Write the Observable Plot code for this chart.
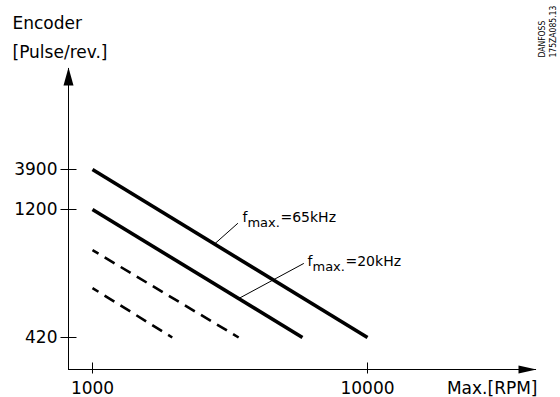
<!DOCTYPE html>
<html><head><meta charset="utf-8">
<script src="https://cdn.jsdelivr.net/npm/d3@7"></script>
<script src="https://cdn.jsdelivr.net/npm/@observablehq/plot@0.6"></script>
<style>body{margin:0;background:#fff}</style>
</head><body><div id="chart"></div>
<script>
// ---- data ----
const startRpm = 1000;
const endPulses = 420;
const solidFreq = ["65kHz", "20kHz"];
const solidStartPulses = [3900, 1200];
const solidEndRpm = [10000, 5800];
const dashedStartPulses = [860, 630];
const dashedEndRpm = [3400, 1950];
const leaderFromRpm = [2780, 3400];
const leaderFromPulses = [905, 578];
const leaderToRpm = [3370, 5850];
const leaderToPulses = [1070, 770];
const labelRpm = [3510, 6050];
const labelPulses = [1079, 758];
const xTicks = [1000, 10000];
const yTicks = [420, 1200, 3900];
const yTitle = ["Encoder", "[Pulse/rev.]"];
const xTitle = "Max.[RPM]";
const stamp = ["DANFOSS", "175ZA085.13"];

// ---- tables ----
const solidRows = solidFreq.flatMap((f, i) => [
  {id: f, rpm: startRpm, pulses: solidStartPulses[i]},
  {id: f, rpm: solidEndRpm[i], pulses: endPulses}
]);
const dashedRows = dashedStartPulses.flatMap((p, i) => [
  {id: "d" + i, rpm: startRpm, pulses: p},
  {id: "d" + i, rpm: dashedEndRpm[i], pulses: endPulses}
]);
const leaderRows = solidFreq.flatMap((f, i) => [
  {id: f, rpm: leaderFromRpm[i], pulses: leaderFromPulses[i]},
  {id: f, rpm: leaderToRpm[i], pulses: leaderToPulses[i]}
]);
const labelRows = solidFreq.map((f, i) => ({f, rpm: labelRpm[i], pulses: labelPulses[i]}));

// ---- custom symbols ----
const hTick = {draw(c) { c.moveTo(-8, 0); c.lineTo(8, 0); }};
const vTick = {draw(c) { c.moveTo(0, -7); c.lineTo(0, 4); }};
const arrowUp = {draw(c) { c.moveTo(0, -1); c.lineTo(-5, 17); c.lineTo(5, 17); c.closePath(); }};
const arrowRight = {draw(c) { c.moveTo(1, 0); c.lineTo(-17, -4); c.lineTo(-17, 4); c.closePath(); }};

const FONT = "DejaVu Sans";
const STAMP_FONT = "'DejaVu Sans Condensed', 'DejaVu Sans'";

const chart = Plot.plot({
  width: 560,
  height: 397,
  marginLeft: 68,
  marginRight: 25,
  marginTop: 68,
  marginBottom: 28,
  style: {fontFamily: FONT, fontSize: "17px", background: "white", color: "black"},
  x: {type: "log", domain: [1000, 10000], range: [92, 367]},
  y: {type: "log", domain: [420, 1200, 3900], range: [337, 209, 169]},
  marks: [
    Plot.frame({anchor: "left"}),
    Plot.frame({anchor: "bottom"}),
    Plot.dot([0], {x: null, y: null, frameAnchor: "top-left", symbol: arrowUp, fill: "black", stroke: "none"}),
    Plot.dot([0], {x: null, y: null, frameAnchor: "bottom-right", symbol: arrowRight, fill: "black", stroke: "none"}),
    Plot.dot(yTicks, {y: d => d, frameAnchor: "left", symbol: hTick, stroke: "black", fill: "none", strokeWidth: 1}),
    Plot.dot(xTicks, {x: d => d, frameAnchor: "bottom", symbol: vTick, stroke: "black", fill: "none", strokeWidth: 1}),
    Plot.axisY(yTicks, {anchor: "left", tickSize: 0, tickPadding: 11, tickFormat: d => String(d), fontSize: 17, label: null}),
    Plot.axisX(xTicks, {anchor: "bottom", tickSize: 0, tickPadding: 12, tickFormat: d => String(d), fontSize: 17, label: null}),
    Plot.text([yTitle[0]], {frameAnchor: "top-left", textAnchor: "start", lineAnchor: "bottom", dx: -56, dy: -40, fontSize: 17}),
    Plot.text([yTitle[1]], {frameAnchor: "top-left", textAnchor: "start", lineAnchor: "bottom", dx: -56, dy: -11, fontSize: 17}),
    Plot.text([xTitle], {frameAnchor: "bottom-right", textAnchor: "end", lineAnchor: "bottom", dx: 2, dy: 24, fontSize: 17}),
    Plot.line(solidRows, {x: "rpm", y: "pulses", z: "id", stroke: "black", strokeWidth: 3.6, strokeLinecap: "butt"}),
    Plot.line(dashedRows, {x: "rpm", y: "pulses", z: "id", stroke: "black", strokeWidth: 2.6, strokeLinecap: "butt", strokeDasharray: "11.5,7.2", strokeDashoffset: 4.5}),
    Plot.line(leaderRows, {x: "rpm", y: "pulses", z: "id", stroke: "black", strokeWidth: 1}),
    Plot.text(labelRows, {x: "rpm", y: "pulses", text: () => "f", textAnchor: "start", lineAnchor: "bottom", fontSize: 14}),
    Plot.text(labelRows, {x: "rpm", y: "pulses", text: () => "max.", textAnchor: "start", lineAnchor: "bottom", dx: 5, dy: 5, fontSize: 13}),
    Plot.text(labelRows, {x: "rpm", y: "pulses", text: d => "=" + d.f, textAnchor: "start", lineAnchor: "bottom", dx: 38, fontSize: 14}),
    Plot.text([stamp[0]], {frameAnchor: "top-right", rotate: -90, textAnchor: "start", dx: 3, dy: -11, fontSize: 8.5, fontFamily: STAMP_FONT}),
    Plot.text([stamp[1]], {frameAnchor: "top-right", rotate: -90, textAnchor: "start", dx: 14, dy: -11, fontSize: 8.5, fontFamily: STAMP_FONT})
  ]
});

document.getElementById("chart").appendChild(chart);
</script>
</body></html>
